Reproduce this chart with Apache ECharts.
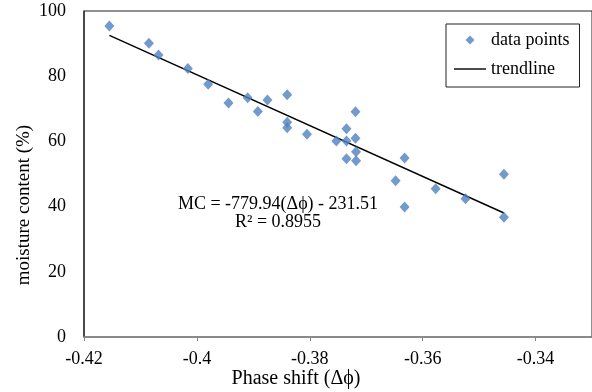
<!DOCTYPE html>
<html>
<head>
<meta charset="utf-8">
<script src="https://cdn.jsdelivr.net/npm/echarts@6/dist/echarts.min.js"></script>
<style>
  html, body { margin: 0; padding: 0; background: #fff; }
  #chart { width: 592px; height: 392px; }
</style>
</head>
<body>
<div id="chart"></div>
<script>
  // phase shift readings and measured moisture content (%)
  const phaseShift = [
    -0.4155, -0.4085, -0.4068, -0.4016, -0.3980, -0.3944, -0.3910, -0.3892,
    -0.3875, -0.3840, -0.3840, -0.3840, -0.3805, -0.3719, -0.3735, -0.3753,
    -0.3735, -0.3719, -0.3718, -0.3735, -0.3718, -0.3632, -0.3648, -0.3577,
    -0.3524, -0.3632, -0.3456, -0.3456
  ];
  const moisture = [
    95.4, 90.1, 86.5, 82.4, 77.5, 71.8, 73.4, 69.2,
    72.7, 74.3, 65.9, 64.2, 62.2, 69.1, 63.9, 60.1,
    60.1, 61.0, 56.8, 54.7, 54.1, 54.9, 47.9, 45.5,
    42.4, 39.9, 49.9, 36.7
  ];
  // fitted trendline MC = slope * dphi + intercept
  const slope = -779.94;
  const intercept = -231.51;
  const xTicks = [-0.42, -0.4, -0.38, -0.36, -0.34];
  const yTicks = [0, 20, 40, 60, 80, 100];

  const points = phaseShift.map((x, i) => [x, moisture[i]]);
  const xLo = Math.min(...phaseShift);
  const xHi = Math.max(...phaseShift);
  const trend = [[xLo, slope * xLo + intercept], [xHi, slope * xHi + intercept]];

  const serif = 'Liberation Serif';
  // legend icons: small diamond centred in a wide box, and a plain line
  const diamondIcon = 'path://M0,4.5L0,4.5M32,4.5L32,4.5M16,0L20.5,4.5L16,9L11.5,4.5Z';
  const lineIcon = 'path://M0,0L32,0L32,1.4L0,1.4Z';

  let myChart = echarts.init(document.getElementById('chart'));
  myChart.setOption({
    animation: false,
    textStyle: { fontFamily: serif },
    grid: {
      left: 84, top: 11, right: -2, bottom: 55,
      show: true, borderColor: '#222', borderWidth: 1
    },
    legend: {
      orient: 'vertical',
      left: 446, top: 24,
      padding: [7, 10, 9, 8],
      itemGap: 11,
      itemWidth: 32,
      itemHeight: 9,
      borderColor: '#222',
      borderWidth: 1,
      textStyle: { fontFamily: serif, fontSize: 18, color: '#000' },
      data: [
        { name: 'data points', icon: diamondIcon },
        { name: 'trendline', icon: lineIcon, itemStyle: { color: '#000' } }
      ]
    },
    xAxis: {
      type: 'value',
      min: xTicks[0], max: -0.33, interval: 0.02,
      axisLine: { lineStyle: { color: '#888', width: 1.5 } },
      axisTick: { show: true, length: 4, lineStyle: { color: '#888' } },
      splitLine: { show: false },
      axisLabel: {
        showMaxLabel: false,
        margin: 13,
        color: '#000', fontFamily: serif, fontSize: 18
      }
    },
    yAxis: {
      type: 'value',
      min: yTicks[0], max: yTicks[yTicks.length - 1], interval: 20,
      axisLine: { show: true, lineStyle: { color: '#333', width: 1.5 } },
      axisTick: { show: false },
      splitLine: { show: false },
      axisLabel: { margin: 18, color: '#000', fontFamily: serif, fontSize: 18 }
    },
    graphic: [
      {
        type: 'text',
        x: 278, y: 195,
        style: {
          text: 'MC = -779.94(\u0394\u03d5) - 231.51\nR\u00b2 = 0.8955',
          fill: '#000', font: '18px "Liberation Serif"',
          align: 'center', lineHeight: 18
        }
      },
      {
        type: 'text',
        x: 296, y: 369,
        style: {
          text: 'Phase shift (\u0394\u03d5)',
          fill: '#000', font: '20px "Liberation Serif"',
          align: 'center'
        }
      },
      {
        type: 'text',
        x: 15, y: 205,
        rotation: Math.PI / 2,
        style: {
          text: 'moisture content (%)',
          fill: '#000', font: '19px "Liberation Serif"',
          align: 'center'
        }
      }
    ],
    series: [
      {
        name: 'data points',
        type: 'scatter',
        symbol: 'diamond',
        symbolSize: [10, 11],
        itemStyle: { color: '#4F81BD' },
        data: points,
        z: 3
      },
      {
        name: 'trendline',
        type: 'line',
        symbol: 'none',
        itemStyle: { color: '#000' },
        lineStyle: { color: '#000', width: 1.4 },
        data: trend,
        z: 2
      }
    ]
  });
</script>
</body>
</html>
